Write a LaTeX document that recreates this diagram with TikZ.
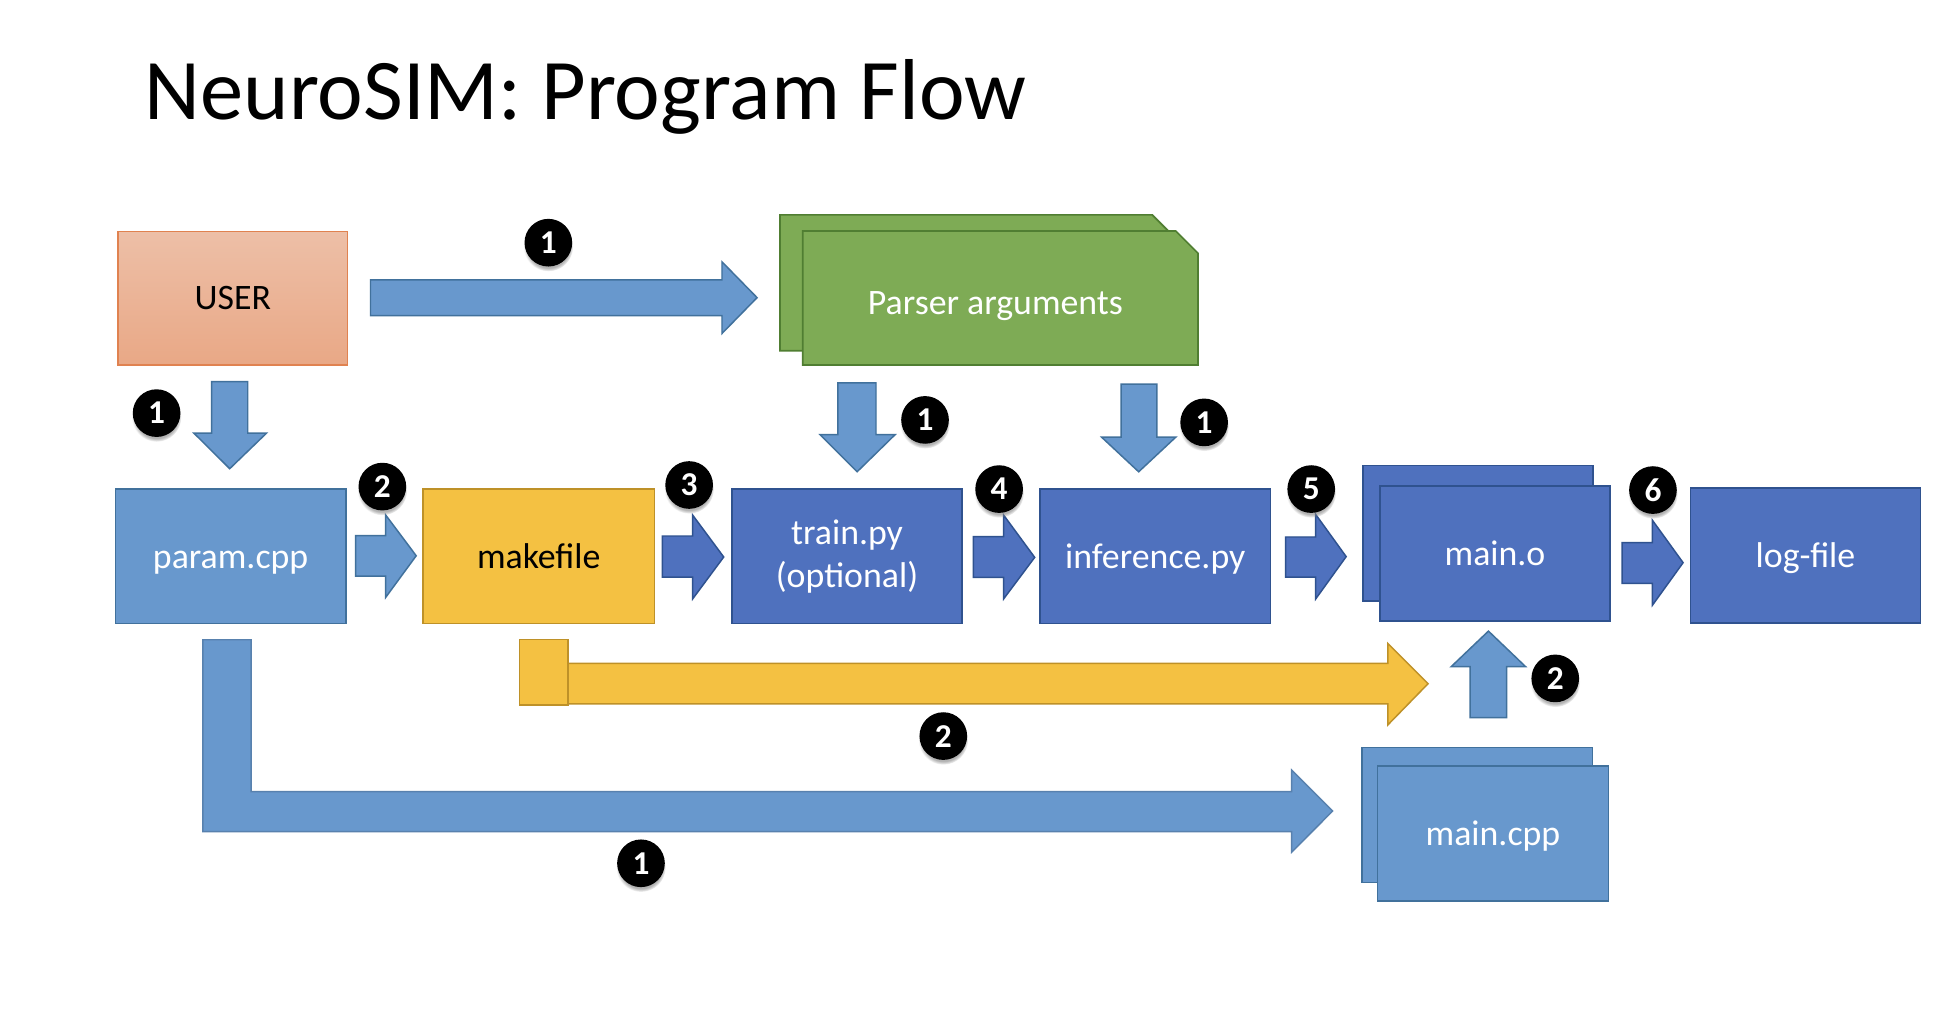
\documentclass[tikz,border=0pt]{standalone}
\usepackage{fontspec}
\setmainfont{Carlito}
\usetikzlibrary{shadows}

\definecolor{lblue}{RGB}{104,152,205}
\definecolor{lblueb}{RGB}{65,113,156}
\definecolor{dblue}{RGB}{79,113,190}
\definecolor{dblueb}{RGB}{47,82,143}
\definecolor{yel}{RGB}{244,193,66}
\definecolor{yelb}{RGB}{190,145,40}
\definecolor{grn}{RGB}{126,171,85}
\definecolor{grnb}{RGB}{80,126,50}
\definecolor{usrtop}{RGB}{237,191,167}
\definecolor{usrbot}{RGB}{233,168,134}
\definecolor{usrb}{RGB}{224,130,80}

\begin{document}
\begin{tikzpicture}[x=1pt,y=-1pt,
  box/.style={draw, line width=1.3pt, inner sep=0pt, text=white, align=center,
    font=\fontsize{29}{35}\selectfont},
  oneline/.style={text height=24pt, text depth=5pt},
  lb/.style={fill=lblue, draw=lblueb},
  db/.style={fill=dblue, draw=dblueb},
  yb/.style={fill=yel, draw=yelb},
  gb/.style={fill=grn, draw=grnb, line width=1.3pt, line join=miter},
  barrow/.style={line width=1.2pt, line join=miter},
  badge/.style={circle, fill=black, text=white, minimum size=38.6pt, inner sep=0pt,
    font=\bfseries\fontsize{27}{27}\selectfont,
    circular drop shadow={shadow xshift=0pt, shadow yshift=-3pt, shadow scale=1.04, opacity=0.6}}
]
\useasboundingbox (0,0) rectangle (1567.6,830.8);
\fill[white] (0,0) rectangle (1567.6,830.8);

% title
\node[anchor=base west, inner sep=0pt, font=\fontsize{70}{84}\selectfont] (title) at (117,96.6) {NeuroSIM: Program Flow};

% USER
\node[box, oneline, draw=usrb, top color=usrtop, bottom color=usrbot, text=black,
  minimum width=186pt, minimum height=108pt] (user) at (188.5,241.5) {USER};

% Parser arguments (stacked snipped boxes)
\path[gb] (631.6,174) -- (933,174) -- (951,192) -- (951,284) -- (631.6,284) -- cycle;
\path[gb] (650,187) -- (952,187) -- (970,205) -- (970,295.5) -- (650,295.5) -- cycle;
\node[anchor=base, inner sep=0pt, text=white, font=\fontsize{29}{35}\selectfont] (parser) at (806,255) {Parser arguments};

% main row
\node[box, oneline, lb, minimum width=186.5pt, minimum height=109pt] (param) at (186.75,450.5) {param.cpp};
\node[box, oneline, yb, text=black, minimum width=187.2pt, minimum height=109pt] (make) at (436.2,450.5) {makefile};
\node[box, db, minimum width=186.3pt, minimum height=109pt] (train) at (685.85,450.5) {train.py\\(optional)};
\node[box, oneline, db, minimum width=186.8pt, minimum height=109pt] (infer) at (935.4,450.5) {inference.py};
\node[box, db, minimum width=186.4pt, minimum height=109.6pt] (mainoback) at (1196.8,431.8) {};
\node[box, oneline, db, minimum width=186.1pt, minimum height=109.7pt] (maino) at (1210.55,448.15) {main.o};
\node[box, oneline, db, minimum width=186.2pt, minimum height=109.5pt] (logf) at (1461.9,449.75) {log-file};

% main.cpp
\node[box, lb, minimum width=186.7pt, minimum height=109pt] (maincppback) at (1195.95,659.9) {};
\node[box, oneline, lb, minimum width=186.8pt, minimum height=109.6pt] (maincpp) at (1208.9,674.8) {main.cpp};

% USER -> Parser
\path[barrow, lb] (300,226.7) -- (584.6,226.7) -- (584.6,212) -- (613,241) -- (584.6,270) -- (584.6,255.6) -- (300,255.6) -- cycle;

% down arrows
\path[barrow, lb] (171.4,309) -- (200.6,309) -- (200.6,350.7) -- (215.8,350.7) -- (186,379.5) -- (157,350.7) -- (171.4,350.7) -- cycle;
\path[barrow, lb] (678.5,310) -- (709.3,310) -- (709.3,352) -- (724.7,352) -- (694,382) -- (664,352) -- (678.5,352) -- cycle;
\path[barrow, lb] (907.7,311) -- (936.8,311) -- (936.8,354) -- (952,354) -- (922,382) -- (892,354) -- (907.7,354) -- cycle;

% right arrows in the main row
\path[barrow, lb] (287.9,433.7) -- (312.3,433.7) -- (312.3,417) -- (337,450) -- (312.3,483.7) -- (312.3,466.4) -- (287.9,466.4) -- cycle;
\path[barrow, db] (536.3,434) -- (560.8,434) -- (560.8,417) -- (586,451) -- (560.8,485) -- (560.8,467.3) -- (536.3,467.3) -- cycle;
\path[barrow, db] (788.2,434.5) -- (812.6,434.5) -- (812.6,417) -- (837.8,451.3) -- (812.6,485) -- (812.6,467.5) -- (788.2,467.5) -- cycle;
\path[barrow, db] (1041,434.8) -- (1065.3,434.8) -- (1065.3,416.5) -- (1090,450.7) -- (1065.3,485) -- (1065.3,467.2) -- (1041,467.2) -- cycle;
\path[barrow, db] (1313.4,439.4) -- (1338,439.4) -- (1338,421.3) -- (1362.8,455.6) -- (1338,490) -- (1338,472.3) -- (1313.4,472.3) -- cycle;

% yellow arrow
\path[barrow, yb] (459.8,537.2) -- (1123.7,537.2) -- (1123.7,521) -- (1156.3,553.6) -- (1123.7,587) -- (1123.7,570) -- (459.8,570) -- cycle;
\path[barrow, yb] (420.7,517.7) rectangle (459.8,571);

% up arrow main.cpp -> main.o
\path[barrow, lb] (1190.3,581) -- (1220,581) -- (1220,539.8) -- (1235.3,539.8) -- (1205.2,511) -- (1175,539.8) -- (1190.3,539.8) -- cycle;

% L-shaped arrow param.cpp -> main.cpp
\path[barrow, fill=lblue, draw=lblue!85!black] (164.3,518) -- (203.3,518) -- (203.3,641) -- (1045.9,641) -- (1045.9,623.5) -- (1079,656.7) -- (1045.9,690) -- (1045.9,673.4) -- (164.3,673.4) -- cycle;

% badges
\node[badge] (b1a) at (444,196.5) {1};
\node[badge] (b1b) at (126.8,334.5) {1};
\node[badge] (b1c) at (749,340) {1};
\node[badge] (b1d) at (975,342) {1};
\node[badge] (b2a) at (309.6,394) {2};
\node[badge] (b3) at (558,392.7) {3};
\node[badge] (b4) at (809,396) {4};
\node[badge] (b5) at (1061.7,396) {5};
\node[badge] (b6) at (1338.4,396.8) {6};
\node[badge] (b2b) at (1259.3,549.3) {2};
\node[badge] (b2c) at (763.8,596) {2};
\node[badge] (b1e) at (519,699) {1};
\end{tikzpicture}
\end{document}
